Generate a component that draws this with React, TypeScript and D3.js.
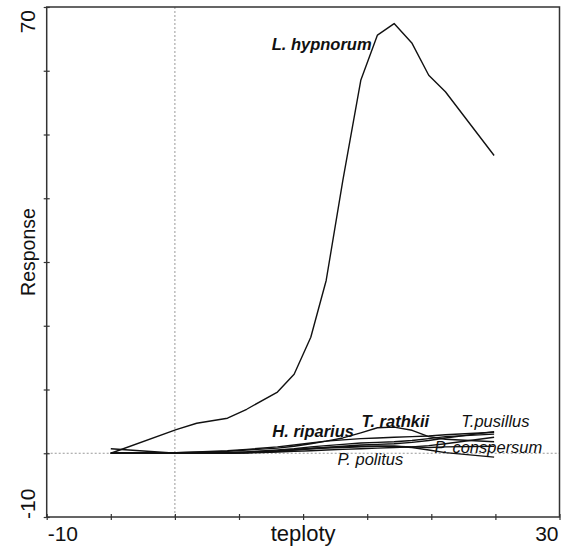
import React, { useEffect, useRef } from 'react';
import * as d3 from 'd3';

// temperature gradient (shared x positions of the fitted response curves)
const teploty = [-5, 0.1, 1.7, 4.1, 5.6, 8, 9.3, 10.6, 11.8, 13.1, 14.5, 15.8, 17.1, 18.5, 19.8, 21.1, 24.9];

// species responses
const lHypnorum = [0, 3.7, 4.7, 5.5, 6.9, 9.6, 12.4, 18.2, 27.1, 42.8, 58.5, 65.6, 67.4, 64.3, 59.3, 56.7, 46.7];
const tRathkii = [0, 0.1, 0.15, 0.3, 0.5, 0.8, 1.1, 1.5, 1.9, 2.4, 3.2, 4.0, 4.1, 3.6, 2.6, 2.2, 1.8];
const hRiparius = [0, 0.1, 0.2, 0.4, 0.6, 1.0, 1.3, 1.6, 1.9, 2.1, 2.3, 2.4, 2.5, 2.6, 2.7, 2.9, 3.3];
const tPusillus = [0.7, 0, 0, 0.05, 0.1, 0.3, 0.5, 0.7, 0.9, 1.1, 1.3, 1.4, 1.5, 1.7, 2.0, 2.4, 3.4];
const pConspersum = [0, 0, 0.05, 0.1, 0.2, 0.4, 0.6, 0.8, 0.9, 1.0, 1.1, 1.1, 1.1, 1.0, 0.9, 1.0, 1.1];
const pPolitus = [0, 0, 0, 0.05, 0.1, 0.3, 0.5, 0.7, 0.8, 0.9, 1.0, 1.1, 1.1, 0.9, 0.5, 0.1, -0.6];
const otherA = [0, 0, 0.05, 0.1, 0.2, 0.5, 0.7, 1.0, 1.2, 1.4, 1.6, 1.7, 1.8, 2.0, 2.3, 2.6, 3.0];
const otherB = [0, 0, 0, 0, 0.05, 0.2, 0.3, 0.4, 0.5, 0.6, 0.7, 0.8, 0.9, 1.0, 1.2, 1.5, 2.5];

const allSeries = [lHypnorum, tRathkii, hRiparius, tPusillus, pConspersum, pPolitus, otherA, otherB];

// curve labels (placed in data units)
const labelText = ['L. hypnorum', 'H. riparius', 'T. rathkii', 'T.pusillus', 'P. conspersum', 'P. politus'];
const labelX = [7.55, 7.6, 14.56, 22.34, 20.24, 12.68];
const labelY = [63.2, 2.5, 4.1, 4.1, 0, -1.9];
const labelBold = [true, true, true, false, false, false];

const xTicks = [-10, -5, 0, 5, 10, 15, 20, 25, 30];
const yTicks = [-10, 0, 10, 20, 30, 40, 50, 60, 70];

const W = 569;
const H = 553;
const FONT = "'Liberation Sans', Arial, sans-serif";

const App = () => {
  const ref = useRef(null);

  useEffect(() => {
    const svg = d3.select(ref.current);
    svg.selectAll('*').remove();

    const left = 46.7, right = 559.5, top = 7, bottom = 517;

    const x = d3.scaleLinear().domain([-10, 30]).range([left, right]);
    const y = d3.scaleLinear().domain([-10, 70]).range([bottom, top]);

    svg.append('rect').attr('width', W).attr('height', H).attr('fill', '#fff');

    // zero reference lines
    svg.append('line')
      .attr('x1', x(0)).attr('x2', x(0)).attr('y1', top).attr('y2', bottom)
      .attr('stroke', '#999').attr('stroke-width', 1).attr('stroke-dasharray', '2,2');
    svg.append('line')
      .attr('x1', left).attr('x2', right).attr('y1', y(0)).attr('y2', y(0))
      .attr('stroke', '#999').attr('stroke-width', 1).attr('stroke-dasharray', '2,2');

    // curves
    const line = d3.line<number>()
      .x((d, i) => x(teploty[i]))
      .y((d) => y(d));

    allSeries.forEach((s) => {
      svg.append('path')
        .datum(s)
        .attr('fill', 'none')
        .attr('stroke', '#111')
        .attr('stroke-width', 1.4)
        .attr('stroke-linejoin', 'round')
        .attr('d', line);
    });

    // frame
    svg.append('rect')
      .attr('x', left).attr('y', top)
      .attr('width', right - left).attr('height', bottom - top)
      .attr('fill', 'none').attr('stroke', '#333').attr('stroke-width', 1.5);

    // tick crosses
    const tickStyle = (g) => {
      g.select('.domain').remove();
      g.selectAll('line').attr('stroke', '#333').attr('stroke-width', 1.2);
    };
    [3, -3].forEach((sz) => {
      svg.append('g')
        .attr('transform', `translate(0,${bottom})`)
        .call(d3.axisBottom(x).tickValues(xTicks).tickSize(sz).tickFormat(() => ''))
        .call(tickStyle);
      svg.append('g')
        .attr('transform', `translate(${left},0)`)
        .call(d3.axisLeft(y).tickValues(yTicks).tickSize(sz).tickFormat(() => ''))
        .call(tickStyle);
    });

    // axis end labels
    const txt = (s, px, py, size, anchor, rot = 0) =>
      svg.append('text')
        .attr('transform', `translate(${px},${py}) rotate(${rot})`)
        .attr('text-anchor', anchor)
        .style('font-family', FONT)
        .style('font-size', `${size}px`)
        .attr('fill', '#111')
        .text(s);

    txt(String(xTicks[0]), x(xTicks[0]) + 1, 541, 21, 'start');
    txt(String(xTicks[xTicks.length - 1]), x(xTicks[xTicks.length - 1]) - 1, 541, 21, 'end');
    txt('teploty', (left + right) / 2, 541, 22, 'middle');

    txt(String(yTicks[yTicks.length - 1]), 35, y(yTicks[yTicks.length - 1]) + 3, 21, 'end', -90);
    txt(String(yTicks[0]), 35, y(yTicks[0]) + 2, 21, 'start', -90);
    txt('Response', 35, 252, 19.5, 'middle', -90);

    // species labels
    labelText.forEach((t, i) => {
      svg.append('text')
        .attr('x', x(labelX[i]))
        .attr('y', y(labelY[i]))
        .style('font-family', FONT)
        .style('font-size', '16.5px')
        .style('font-style', 'italic')
        .style('font-weight', labelBold[i] ? 'bold' : 'normal')
        .attr('fill', '#111')
        .text(t);
    });
  }, []);

  return (
    <svg
      ref={ref}
      width={W}
      height={H}
      style={{ position: 'absolute', left: 0, top: 0 }}
    ></svg>
  );
};

export default App;
